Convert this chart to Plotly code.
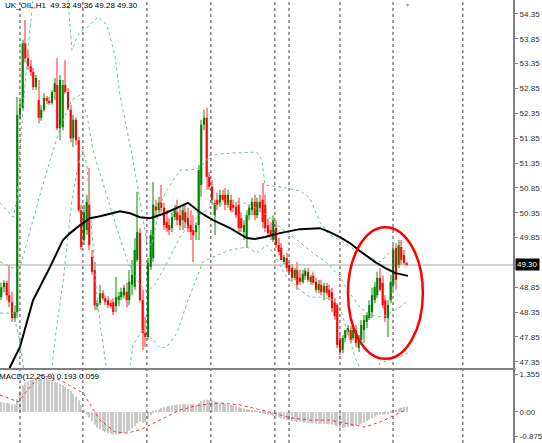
import plotly.graph_objects as go

# H1 candles, one per bar (index = bar number)
opens = [48.65, 48.85, 48.94, 48.69, 48.55, 48.23, 48.35, 52.32, 52.46, 53.76,
         53.46, 53.30, 53.18, 52.88, 52.62, 52.26, 52.42, 52.66, 52.60, 52.56,
         52.78, 52.92, 52.05, 52.07, 52.92, 52.78, 52.42, 51.85, 52.22, 51.81,
         50.40, 49.80, 50.00, 50.51, 49.46, 49.20, 48.47, 48.53, 48.73, 48.63,
         48.59, 48.53, 48.55, 48.47, 48.59, 48.65, 48.69, 48.76, 48.59, 48.90,
         48.86, 49.40, 49.94, 48.59, 47.93, 47.85, 49.26, 49.44, 50.47, 50.40,
         50.55, 50.45, 50.16, 50.10, 50.04, 50.26, 50.36, 50.30, 50.20, 50.36,
         50.24, 50.10, 50.00, 49.96, 50.10, 50.91, 52.12, 52.26, 51.07, 50.87,
         50.30, 50.61, 50.55, 50.71, 50.71, 50.51, 50.61, 50.51, 50.47, 50.51,
         50.24, 49.96, 49.84, 50.30, 50.40, 50.57, 50.30, 50.57, 50.61, 50.51,
         50.10, 50.00, 49.80, 50.04, 49.70, 49.64, 49.36, 49.44, 49.30, 49.24,
         49.04, 49.20, 49.04, 48.96, 49.08, 49.16, 48.96, 49.08, 48.96, 48.80,
         48.90, 48.75, 48.88, 48.80, 48.75, 48.55, 48.49, 47.79, 47.59, 47.83,
         47.95, 47.99, 47.83, 47.99, 47.63, 47.79, 47.99, 48.15, 48.23, 48.35,
         48.59, 48.69, 49.04, 48.94, 48.59, 48.23, 48.59, 48.90, 49.64, 49.30,
         49.66, 49.50, 49.32]
highs = [48.94, 48.99, 48.98, 49.28, 48.76, 48.49, 52.68, 52.62, 53.83, 54.23,
         53.62, 53.42, 53.26, 53.12, 53.02, 52.52, 52.76, 52.70, 52.68, 52.82,
         53.06, 53.46, 53.12, 53.02, 53.42, 52.86, 52.52, 52.32, 52.26, 51.87,
         50.51, 50.51, 50.71, 51.25, 49.60, 49.36, 48.59, 48.90, 48.80, 48.69,
         48.67, 48.59, 48.63, 49.06, 48.76, 48.84, 48.90, 48.94, 49.20, 49.40,
         49.84, 50.77, 50.04, 48.80, 48.25, 49.44, 50.00, 50.97, 50.61, 50.67,
         50.91, 50.55, 50.40, 50.24, 50.36, 50.51, 50.61, 50.47, 50.51, 50.51,
         50.45, 50.40, 50.30, 50.16, 51.31, 52.22, 52.42, 52.46, 51.17, 51.01,
         50.61, 50.75, 50.81, 50.81, 50.85, 50.81, 50.71, 50.61, 50.57, 50.65,
         50.36, 50.20, 50.40, 50.51, 50.65, 50.71, 50.65, 50.71, 50.95, 50.71,
         50.24, 50.16, 50.30, 50.20, 49.84, 49.74, 49.50, 49.54, 49.36, 49.32,
         49.24, 49.36, 49.20, 49.20, 49.24, 49.24, 49.10, 49.16, 49.04, 49.00,
         49.00, 48.94, 48.94, 48.90, 48.84, 48.63, 48.53, 47.89, 47.89, 47.99,
         48.09, 48.07, 48.03, 48.09, 47.89, 48.19, 48.29, 48.35, 48.59, 48.84,
         48.96, 49.16, 49.24, 49.08, 48.69, 48.59, 49.10, 49.70, 49.74, 49.80,
         49.80, 49.60, 49.36]
lows = [48.59, 48.75, 48.59, 48.45, 48.15, 48.15, 48.23, 52.22, 52.42, 53.38,
        53.22, 53.10, 52.82, 52.82, 52.15, 52.20, 52.38, 52.54, 52.52, 52.52,
        52.62, 52.01, 51.81, 52.01, 52.74, 52.42, 51.77, 51.67, 51.71, 50.36,
        49.60, 49.70, 49.90, 49.60, 49.10, 48.39, 48.39, 48.49, 48.59, 48.49,
        48.43, 48.43, 48.29, 48.35, 48.47, 48.59, 48.63, 48.45, 48.49, 48.69,
        48.80, 49.36, 48.55, 47.59, 47.65, 47.80, 49.20, 49.36, 50.24, 50.30,
        50.36, 50.00, 49.96, 49.90, 49.96, 50.20, 50.10, 50.00, 50.00, 50.04,
        49.96, 49.80, 49.36, 49.80, 49.80, 50.67, 52.01, 50.81, 50.81, 50.51,
        49.90, 50.40, 50.47, 50.57, 50.40, 50.45, 50.36, 50.36, 50.24, 49.96,
        49.96, 49.80, 49.64, 50.20, 50.30, 50.20, 50.24, 50.36, 50.04, 49.96,
        49.88, 49.80, 49.76, 49.64, 49.50, 49.40, 49.32, 49.16, 49.10, 48.96,
        48.99, 48.80, 48.90, 48.92, 49.00, 48.96, 48.90, 48.90, 48.75, 48.73,
        48.69, 48.59, 48.69, 48.59, 48.35, 48.19, 47.63, 47.49, 47.53, 47.75,
        47.89, 47.73, 47.79, 47.65, 47.55, 47.69, 47.73, 48.03, 48.19, 48.23,
        48.53, 48.63, 48.76, 48.43, 48.15, 47.85, 48.53, 48.80, 48.80, 49.24,
        49.30, 49.30, 49.28]
closes = [48.85, 48.94, 48.69, 48.55, 48.23, 48.35, 52.32, 52.46, 53.76, 53.46,
          53.30, 53.18, 52.88, 53.06, 52.26, 52.42, 52.66, 52.60, 52.56, 52.78,
          52.96, 52.05, 53.02, 52.92, 52.78, 52.42, 51.85, 52.22, 51.81, 50.40,
          49.66, 50.36, 50.57, 49.70, 49.16, 48.49, 48.53, 48.73, 48.63, 48.55,
          48.49, 48.47, 48.35, 48.65, 48.67, 48.76, 48.84, 48.59, 48.96, 49.10,
          49.60, 49.96, 48.59, 47.93, 47.85, 49.34, 49.90, 50.51, 50.40, 50.55,
          50.45, 50.10, 50.04, 50.00, 50.26, 50.40, 50.20, 50.10, 50.40, 50.16,
          50.04, 49.96, 49.90, 50.10, 51.21, 52.12, 52.26, 51.07, 50.87, 50.61,
          50.55, 50.51, 50.71, 50.61, 50.51, 50.71, 50.40, 50.45, 50.30, 50.04,
          50.04, 50.10, 50.30, 50.45, 50.57, 50.30, 50.57, 50.45, 50.16, 50.04,
          49.94, 49.90, 50.20, 49.70, 49.56, 49.40, 49.46, 49.24, 49.16, 49.04,
          49.20, 48.90, 48.96, 49.12, 49.18, 49.00, 49.06, 48.94, 48.80, 48.92,
          48.75, 48.88, 48.73, 48.65, 48.43, 48.27, 47.69, 47.55, 47.83, 47.99,
          48.03, 47.79, 47.99, 47.73, 47.83, 48.09, 48.19, 48.29, 48.49, 48.69,
          48.86, 49.04, 48.80, 48.49, 48.23, 48.49, 48.96, 49.60, 49.00, 49.70,
          49.40, 49.34, 49.30]

# moving average (black) and bollinger bands (green dotted), sampled at bar positions
ma_x = [2.5, 3.3, 7.0, 11.9, 18.3, 23.1, 25.8, 29.5, 33.3, 37.0, 44.5, 48.3, 52.0, 55.8,
        61.4, 67.0, 70.0, 74.5, 79.4, 85.8, 92.1, 95.1, 98.9, 104.5, 112.0, 119.5,
        123.2, 127.0, 130.7, 134.5, 140.1, 143.9, 147.6, 152.5]
ma_y = [47.05, 47.25, 47.65, 48.59, 49.26, 49.80, 49.94, 50.10, 50.24, 50.28, 50.38, 50.34,
        50.26, 50.24, 50.34, 50.47, 50.55, 50.36, 50.20, 50.04, 49.84, 49.82, 49.86, 49.94,
        50.02, 50.04, 49.96, 49.86, 49.74, 49.58, 49.36, 49.24, 49.14, 49.08]

bb_up_x = [-0.5, 2.5, 4.4, 5.9, 7.0, 9.6, 11.9, 13.4, 18.3, 23.5, 25.0, 26.5, 28.0, 29.5,
           32.1, 36.3, 39.6, 42.6, 44.5, 47.1, 49.4, 52.0, 54.6, 56.5, 58.4, 59.5, 62.1,
           67.0, 70.8, 74.5, 76.4, 78.3, 85.8, 95.9, 97.7, 98.9, 104.5, 112.0, 115.7,
           119.5, 123.2, 127.0, 130.7, 134.5, 138.2, 142.0, 145.7, 149.5, 152.5]
bb_up_y = [50.55, 50.36, 50.26, 50.61, 51.61, 53.42, 54.63, 55.43, 56.04, 55.43, 54.63,
           53.62, 53.83, 53.99, 54.07, 54.29, 54.13, 53.52, 52.72, 52.01, 51.41, 50.61,
           49.74, 49.70, 50.20, 50.51, 50.81, 51.21, 51.21, 51.25, 51.37, 51.51, 51.55,
           51.57, 51.41, 50.91, 50.87, 50.79, 50.65, 50.16, 49.90, 49.80, 49.66, 49.56,
           49.44, 49.36, 49.56, 49.70, 49.84]

bb_mid_x = [-0.5, 4.4, 7.0, 10.8, 14.5, 18.3, 22.0, 26.5, 29.5, 32.1, 34.4, 40.8, 47.1,
            52.0, 54.6, 57.6, 62.1, 67.0, 70.8, 74.5, 79.4, 89.5, 93.3, 99.6, 104.5,
            110.9, 116.9, 122.1, 127.0, 130.7, 134.5, 138.2, 143.1, 149.5, 152.5]
bb_mid_y = [49.36, 49.24, 49.24, 50.00, 50.71, 51.41, 52.05, 52.62, 52.72, 52.32, 51.61,
            50.47, 49.40, 48.90, 48.76, 48.90, 49.34, 49.86, 50.14, 50.30, 50.51, 50.57,
            50.51, 50.30, 50.06, 49.80, 49.54, 49.34, 49.06, 48.73, 48.45, 48.29, 48.25,
            48.45, 48.59]

bb_lo_x = [-0.5, 4.4, 6.3, 7.4, 8.9, 14.5, 18.3, 20.1, 23.1, 26.5, 28.8, 30.6, 32.1,
           34.0, 35.5, 37.0, 39.6, 43.8, 47.5, 49.4, 53.1, 56.9, 59.5, 62.1, 65.9, 69.6,
           73.4, 75.6, 79.4, 85.8, 92.1, 95.9, 99.6, 102.6, 106.4, 112.0, 115.7, 120.6,
           124.4, 127.0, 129.6, 132.6, 136.4, 139.0, 142.0, 149.5, 152.5]
bb_lo_y = [48.33, 48.33, 47.93, 47.59, 46.98, 46.18, 46.88, 47.79, 48.94, 50.61, 51.31,
           51.61, 51.31, 50.00, 48.90, 48.13, 47.15, 46.18, 46.98, 47.69, 47.99, 47.79,
           47.63, 47.65, 47.93, 48.53, 49.06, 49.36, 49.46, 49.60, 49.66, 49.54, 49.70,
           49.50, 49.10, 48.80, 48.65, 48.65, 48.59, 48.45, 47.99, 47.45, 46.98, 46.88,
           47.33, 47.45, 47.53]

# MACD(12,26,9): histogram per bar, signal line sampled
macd_hist = [0.35, 0.33, 0.32, 0.30, 0.28, 0.27, 0.45, 0.75, 0.95, 1.05,
             1.10, 1.14, 1.16, 1.18, 1.18, 1.18, 1.17, 1.16, 1.14, 1.12,
             1.08, 1.04, 1.00, 0.96, 0.90, 0.82, 0.75, 0.65, 0.55, 0.42,
             0.25, 0.08, -0.10, -0.20, -0.32, -0.45, -0.55, -0.62, -0.68, -0.72,
             -0.75, -0.78, -0.80, -0.80, -0.80, -0.78, -0.75, -0.72, -0.66, -0.58,
             -0.50, -0.40, -0.35, -0.38, -0.36, -0.25, -0.12, -0.02, 0.05, 0.10,
             0.14, 0.18, 0.20, 0.22, 0.24, 0.25, 0.26, 0.27, 0.28, 0.28,
             0.28, 0.28, 0.27, 0.26, 0.32, 0.40, 0.44, 0.44, 0.42, 0.40,
             0.38, 0.35, 0.33, 0.31, 0.29, 0.27, 0.25, 0.23, 0.20, 0.17,
             0.14, 0.12, 0.10, 0.08, 0.06, 0.04, 0.02, -0.02, -0.05, -0.07,
             -0.09, -0.12, -0.14, -0.17, -0.20, -0.23, -0.26, -0.28, -0.30, -0.32,
             -0.33, -0.35, -0.36, -0.37, -0.38, -0.39, -0.40, -0.40, -0.41, -0.42,
             -0.42, -0.43, -0.44, -0.45, -0.46, -0.48, -0.52, -0.55, -0.56, -0.55,
             -0.53, -0.52, -0.50, -0.48, -0.46, -0.42, -0.38, -0.33, -0.28, -0.22,
             -0.17, -0.12, -0.10, -0.10, -0.10, -0.08, -0.02, 0.06, 0.08, 0.13,
             0.16, 0.18, 0.193]
signal_x = [-0.5, 6.3, 14.5, 22.0, 30.6, 37.0, 42.6, 47.2, 52.0, 55.7, 61.4, 67.0, 74.5,
            82.0, 89.5, 95.0, 100.7, 108.3, 115.7, 123.2, 128.9, 136.4, 142.0, 147.6, 151.4]
signal_y = [0.61, 0.36, 1.32, 1.14, 0.68, -0.29, -0.71, -0.75, -0.64, -0.46, -0.18, 0.07,
            0.25, 0.32, 0.25, 0.14, 0.0, -0.21, -0.29, -0.29, -0.39, -0.54, -0.36, -0.11, 0.06]

separators = [7.0, 30.6, 54.6, 78.6, 102.6, 107.9, 127.0, 146.9, 173.1]
price_ticks = [47.35, 47.85, 48.35, 48.85, 49.85, 50.35, 50.85, 51.35, 51.85, 52.35,
               52.85, 53.35, 53.85, 54.35]
macd_ticks = [1.355, 0.0, -0.875]
macd_tick_text = ["1.355", "0.00", "-0.875"]
title_text = "UK_OIL,H1  49.32 49.36 49.28 49.30"
macd_title = "MACD(12,26,9) 0.193 0.059"

bars = list(range(len(closes)))
is_up = [c >= o for o, c in zip(opens, closes)]
body_base = [min(o, c) for o, c in zip(opens, closes)]
body_h = [max(abs(c - o), 0.025) for o, c in zip(opens, closes)]
wick_h = [h - l for h, l in zip(highs, lows)]

FONT = "Liberation Sans"
band_style = dict(color="#6cc48f", width=1, dash="dot")

fig = go.Figure()

fig.add_trace(go.Bar(x=bars, y=wick_h, base=lows, width=0.4,
                     marker_color=["#80c880" if u else "#ff9090" for u in is_up],
                     marker_line_width=0, xaxis="x", yaxis="y"))
fig.add_trace(go.Bar(x=bars, y=body_h, base=body_base, width=0.78,
                     marker_color=["#008000" if u else "#ff0000" for u in is_up],
                     marker_line_width=0, xaxis="x", yaxis="y"))

for bx, by in [(bb_up_x, bb_up_y), (bb_mid_x, bb_mid_y), (bb_lo_x, bb_lo_y)]:
    fig.add_trace(go.Scatter(x=bx, y=by, mode="lines", line=band_style,
                             xaxis="x", yaxis="y"))

fig.add_trace(go.Scatter(x=ma_x, y=ma_y, mode="lines", line=dict(color="black", width=2),
                         xaxis="x", yaxis="y"))

fig.add_trace(go.Bar(x=bars, y=macd_hist, width=0.4, marker_color="#c8c8c8",
                     marker_line_width=0, xaxis="x2", yaxis="y2"))
fig.add_trace(go.Scatter(x=signal_x, y=signal_y, mode="lines",
                         line=dict(color="#ff3030", width=1, dash="dot"),
                         xaxis="x2", yaxis="y2"))

shapes = []
for s in separators:
    shapes.append(dict(type="line", xref="x", yref="paper", x0=s, x1=s, y0=0, y1=1,
                       line=dict(color="#404040", width=1, dash="dot")))
shapes.append(dict(type="line", xref="paper", yref="y", x0=0, x1=1, y0=closes[-1],
                   y1=closes[-1], layer="below", line=dict(color="#d4d4d4", width=2)))
shapes.append(dict(type="line", xref="paper", yref="paper", x0=0, x1=1.005,
                   y0=1 - 369 / 443, y1=1 - 369 / 443, line=dict(color="#808080", width=2)))
shapes.append(dict(type="circle", xref="x", yref="y", x0=130.0, x1=158.1, y0=47.41,
                   y1=50.06, line=dict(color="#ff0000", width=2.5)))

axis_common = dict(showgrid=False, zeroline=False, showline=True, linecolor="#808080",
                   linewidth=2, ticks="outside", ticklen=3, tickcolor="#808080",
                   side="right", automargin=False,
                   tickfont=dict(family=FONT, size=8, color="#333333"))

fig.update_layout(
    width=542, height=443,
    margin=dict(l=0, r=29, t=0, b=0),
    paper_bgcolor="white", plot_bgcolor="white",
    showlegend=False, barmode="overlay",
    xaxis=dict(domain=[0, 1], range=[-0.49, 191.9], showgrid=False, zeroline=False,
               showticklabels=False, anchor="y"),
    xaxis2=dict(domain=[0, 1], matches="x", showgrid=False, zeroline=False,
                showticklabels=False, anchor="y2"),
    yaxis=dict(domain=[1 - 368 / 443, 1], range=[47.226, 54.63], tickvals=price_ticks,
               ticktext=[f"{v:.2f}" for v in price_ticks], anchor="x", **axis_common),
    yaxis2=dict(domain=[0, 1 - 370 / 443], range=[-1.107, 1.498], tickvals=macd_ticks,
                ticktext=macd_tick_text, anchor="x2", **axis_common),
    shapes=shapes,
    annotations=[
        dict(text=title_text, xref="paper", yref="paper", x=0, y=1, xanchor="left",
             yanchor="top", xshift=3, yshift=1, showarrow=False,
             font=dict(family=FONT, size=8, color="black")),
        dict(text=macd_title, xref="paper", yref="paper", x=0, y=1 - 370 / 443,
             xanchor="left", yanchor="top", xshift=-3, showarrow=False,
             font=dict(family=FONT, size=8, color="black")),
        dict(text=f"{closes[-1]:.2f}", xref="paper", yref="y", x=1, y=closes[-1],
             xanchor="left", yanchor="middle", xshift=2, showarrow=False,
             bgcolor="black", borderpad=1, font=dict(family=FONT, size=8, color="white")),
        dict(text="▼", xref="x", yref="paper", x=len(closes) - 0.5, y=1, yanchor="top",
             showarrow=False, font=dict(size=5, color="#909090")),
    ],
)

# the page's default body margin would shift the chart by 8px
fig.write_html("out.html", config={"displayModeBar": False},
               post_script="document.body.style.margin='0px';")
